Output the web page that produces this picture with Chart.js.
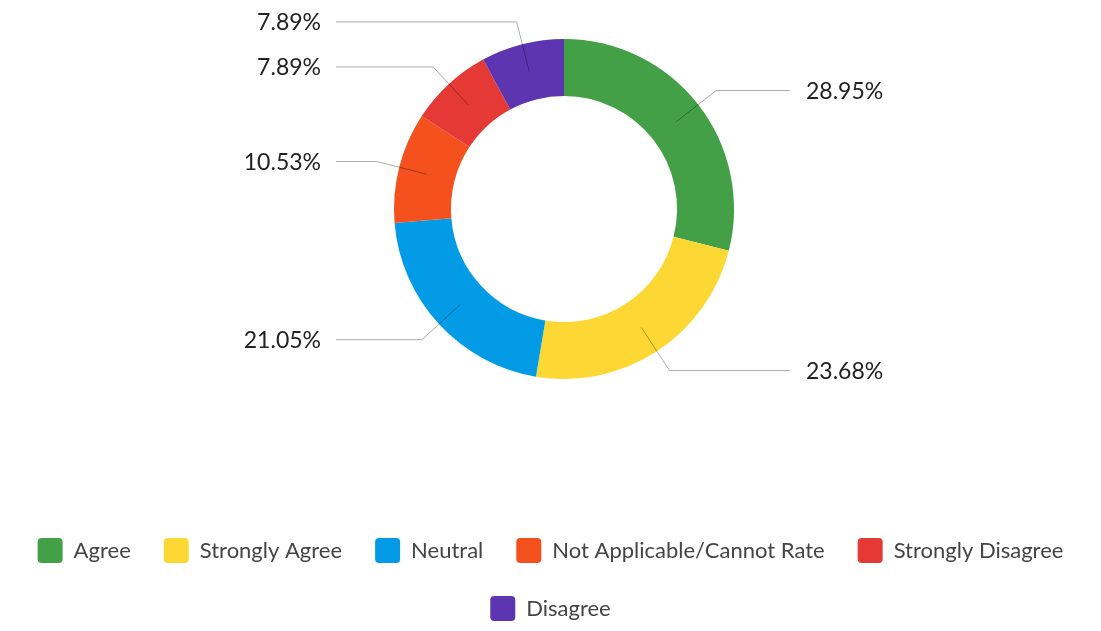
<!DOCTYPE html>
<html>
<head>
<meta charset="utf-8">
<script src="https://cdn.jsdelivr.net/npm/chart.js@4/dist/chart.umd.min.js"></script>
<style>
  html, body { margin: 0; padding: 0; background: #fff; }
  canvas { display: block; }
</style>
</head>
<body>
<canvas id="ratingChart" width="1101" height="631"></canvas>
<script>
// Answer categories and their share of responses (%)
const categories = ['Agree', 'Strongly Agree', 'Neutral', 'Not Applicable/Cannot Rate', 'Strongly Disagree', 'Disagree'];
const shares = [28.95, 23.68, 21.05, 10.53, 7.89, 7.89];
const colors = ['#43A047', '#FDD835', '#039BE5', '#F4511E', '#E53935', '#5E35B1'];

// Percent labels with elbow leader lines, drawn after the arcs
const leaderLabels = {
    id: 'leaderLabels',
    afterLayout(chart) {
        // the ring sits a little right of the page centre
        chart.chartArea.left += 27;
        chart.chartArea.width = chart.chartArea.right - chart.chartArea.left;
    },
    afterDatasetsDraw(chart) {
        const ctx = chart.ctx;
        const meta = chart.getDatasetMeta(0);
        ctx.save();
        ctx.font = '23px Lato';
        ctx.textBaseline = 'middle';
        meta.data.forEach((arc, i) => {
            const p = arc.getProps(['x', 'y', 'startAngle', 'endAngle', 'innerRadius', 'outerRadius'], true);
            const mid = (p.startAngle + p.endAngle) / 2;
            const r0 = (p.innerRadius + p.outerRadius) / 2;
            const r1 = p.outerRadius + 23;
            const x0 = p.x + Math.cos(mid) * r0, y0 = p.y + Math.sin(mid) * r0;
            const x1 = p.x + Math.cos(mid) * r1, y1 = p.y + Math.sin(mid) * r1;
            const right = Math.cos(mid) >= 0;
            const x2 = right ? p.x + 226 : p.x - 228;

            ctx.strokeStyle = 'rgba(0, 0, 0, 0.33)';
            ctx.lineWidth = 1;
            ctx.beginPath();
            ctx.moveTo(x0, y0);
            ctx.lineTo(x1, y1);
            ctx.lineTo(x2, y1);
            ctx.stroke();

            ctx.fillStyle = '#222';
            ctx.textAlign = right ? 'left' : 'right';
            ctx.fillText(shares[i].toFixed(2) + '%', right ? x2 + 16 : x2 - 15, y1 + 1);
        });
        ctx.restore();
    }
};

const chartCtx = document.getElementById('ratingChart').getContext('2d');
const ratingChart = new Chart(chartCtx, {
    type: 'doughnut',
    data: {
        labels: categories,
        datasets: [{
            data: shares,
            backgroundColor: colors,
            borderWidth: 0,
            radius: 170,
            cutout: '66.5%'
        }]
    },
    options: {
        responsive: false,
        devicePixelRatio: 1,
        animation: false,
        layout: { padding: 0 },
        plugins: {
            tooltip: { enabled: false },
            legend: {
                position: 'bottom',
                title: {
                    display: true,
                    text: '',
                    font: { size: 10, lineHeight: 1 },
                    padding: { top: 77, bottom: 0 }
                },
                labels: {
                    font: { family: 'Lato', size: 22 },
                    color: '#444',
                    boxWidth: 25,
                    boxHeight: 25,
                    useBorderRadius: true,
                    borderRadius: 4,
                    padding: 33
                }
            }
        }
    },
    plugins: [leaderLabels]
});
</script>
</body>
</html>
